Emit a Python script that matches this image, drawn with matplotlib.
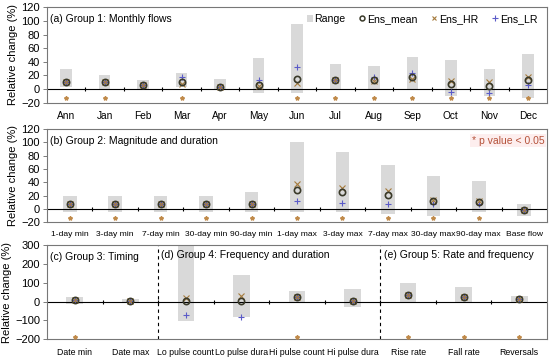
import numpy as np
import matplotlib.pyplot as plt
from matplotlib.patches import Patch
from matplotlib.lines import Line2D

plt.rcParams['font.family'] = ['Liberation Sans', 'DejaVu Sans']

# ---- data ----
cats_a = ["Ann", "Jan", "Feb", "Mar", "Apr", "May", "Jun", "Jul", "Aug", "Sep", "Oct", "Nov", "Dec"]
lo_a = [3, -1, 0, 3, -1, -6, -6, -1, -1, -1, -10, -10, -13]
hi_a = [29, 20, 13, 24, 15, 46, 96, 37, 34, 47, 43, 30, 52]
mean_a = [10, 10, 6, 10, 3, 6, 15, 13, 13, 17, 7, 5, 13]
hr_a = [10, 10, 6, 7, 3, 4, 9, 13, 12, 15, 12, 10, 17]
lr_a = [10, 10, 6, 17, 3, 14, 33, 13, 18, 23, -4, -6, 6]
sig_a = [1, 1, 0, 1, 0, 0, 1, 1, 1, 1, 1, 1, 1]

cats_b = ["1-day min", "3-day min", "7-day min", "30-day min", "90-day min", "1-day max",
          "3-day max", "7-day max", "30-day max", "90-day max", "Base flow"]
lo_b = [-5, -5, -5, -5, -5, -5, -5, -8, -11, -4, -10]
hi_b = [20, 20, 20, 20, 25, 101, 85, 66, 49, 42, 7]
mean_b = [7, 7, 7, 7, 8, 28, 25, 21, 12, 10, -2]
hr_b = [7, 7, 7, 7, 8, 37, 32, 27, 14, 12, -2]
lr_b = [7, 7, 7, 7, 8, 12, 9, 7, 8, 7, -2]
sig_b = [1, 1, 1, 1, 1, 1, 1, 1, 1, 1, 0]

cats_c = ["Date min", "Date max", "Lo pulse count", "Lo pulse dura", "Hi pulse count",
          "Hi pulse dura", "Rise rate", "Fall rate", "Reversals"]
lo_c = [-13, -6, -101, -83, 0, -27, 0, 0, 0]
hi_c = [26, 14, 310, 141, 56, 65, 100, 79, 30]
mean_c = [8, 5, 3, 5, 23, 3, 35, 26, 14]
hr_c = [8, 5, 17, 30, 23, 3, 35, 26, 14]
lr_c = [8, 5, -71, -83, 23, 3, 35, 26, 14]
sig_c = [1, 0, 0, 0, 1, 0, 1, 1, 1]

BAR = "#d9d9d9"
MEAN = "#3a3a2a"
HR = "#a57a3c"
LR = "#5b5bc8"
STAR = "#c08a4a"


def panel(ax, cats, lo, hi, mean, hr, lr, sig, ylim, yticks, star_y, xfs):
    x = np.arange(len(cats))
    lo = np.array(lo)
    hi = np.array(hi)
    ax.bar(x, hi - lo, bottom=lo, width=0.3, color=BAR, zorder=1)
    ax.axhline(0, color="black", lw=0.8, zorder=2)
    # small category-boundary ticks on the zero line
    bnd = x[:-1] + 0.5
    ax.plot(bnd, np.zeros_like(bnd), ls="none", marker="|", ms=3, mew=0.8, color="black", zorder=2)
    ax.plot(x, lr, ls="none", marker="+", ms=4.5, mew=0.8, color=LR, zorder=3)
    ax.plot(x, hr, ls="none", marker="x", ms=4, mew=0.8, color=HR, zorder=3)
    ax.plot(x, mean, ls="none", marker="o", ms=4.5, mew=1.2, mfc="none", mec=MEAN, zorder=4)
    sx = x[np.array(sig) == 1]
    ax.plot(sx, np.full(len(sx), star_y), ls="none", marker="*", ms=3, color=STAR, zorder=3)
    ax.set_xlim(-0.5, len(cats) - 0.5)
    ax.set_ylim(*ylim)
    ax.set_yticks(yticks)
    ax.set_xticks(x)
    ax.set_xticklabels(cats, fontsize=xfs)
    ax.tick_params(axis="x", length=0, pad=6)
    ax.tick_params(axis="y", labelsize=8, length=3, width=0.6, color="#666666", pad=2)
    for s in ax.spines.values():
        s.set_color("#777777")
        s.set_linewidth(0.8)
    ax.set_ylabel("Relative change (%)", fontsize=8, labelpad=2)


fig = plt.figure(figsize=(5.5, 3.57), dpi=100)
ax_a = fig.add_axes([0.0855, 0.7123, 0.909, 0.2673])
ax_b = fig.add_axes([0.0855, 0.3773, 0.909, 0.2614])
ax_c = fig.add_axes([0.0855, 0.0496, 0.909, 0.2641])

panel(ax_a, cats_a, lo_a, hi_a, mean_a, hr_a, lr_a, sig_a, (-20, 120), range(-20, 121, 20), -13, 7.3)
panel(ax_b, cats_b, lo_b, hi_b, mean_b, hr_b, lr_b, sig_b, (-20, 120), range(-20, 121, 20), -14, 6.1)
panel(ax_c, cats_c, lo_c, hi_c, mean_c, hr_c, lr_c, sig_c, (-200, 300), range(-200, 301, 100), -186, 6.3)

tfs = 7.5
ax_a.text(0.006, 0.93, "(a) Group 1: Monthly flows", transform=ax_a.transAxes, fontsize=tfs, va="top")
ax_b.text(0.006, 0.93, "(b) Group 2: Magnitude and duration", transform=ax_b.transAxes, fontsize=tfs, va="top")
ax_b.text(0.995, 0.93, "* p value < 0.05", transform=ax_b.transAxes, fontsize=tfs, va="top", ha="right",
          color="#b5523a", bbox=dict(facecolor="#fdeeee", edgecolor="none", pad=1))
ax_c.text(0.006, 0.93, "(c) Group 3: Timing", transform=ax_c.transAxes, fontsize=tfs, va="top")
ax_c.text(1.56, 272, "(d) Group 4: Frequency and duration", fontsize=tfs, va="top")
ax_c.text(5.56, 272, "(e) Group 5: Rate and frequency", fontsize=tfs, va="top")
for xv in (1.5, 5.5):
    ax_c.axvline(xv, color="black", lw=0.8, ls=(0, (3, 3)), zorder=2)

handles = [
    Patch(facecolor=BAR, edgecolor="none"),
    Line2D([], [], ls="none", marker="o", ms=3.5, mew=1.1, mfc="none", mec=MEAN),
    Line2D([], [], ls="none", marker="x", ms=3.5, mew=0.8, color=HR),
    Line2D([], [], ls="none", marker="+", ms=4, mew=0.8, color=LR),
]
ax_a.legend(handles, ["Range", "Ens_mean", "Ens_HR", "Ens_LR"], loc="upper right", ncol=4,
            frameon=False, fontsize=7.6, handlelength=0.6, handletextpad=0.15, columnspacing=1.3,
            borderaxespad=0.25, bbox_to_anchor=(0.995, 1.0))

fig.savefig("out.png", dpi=100)
